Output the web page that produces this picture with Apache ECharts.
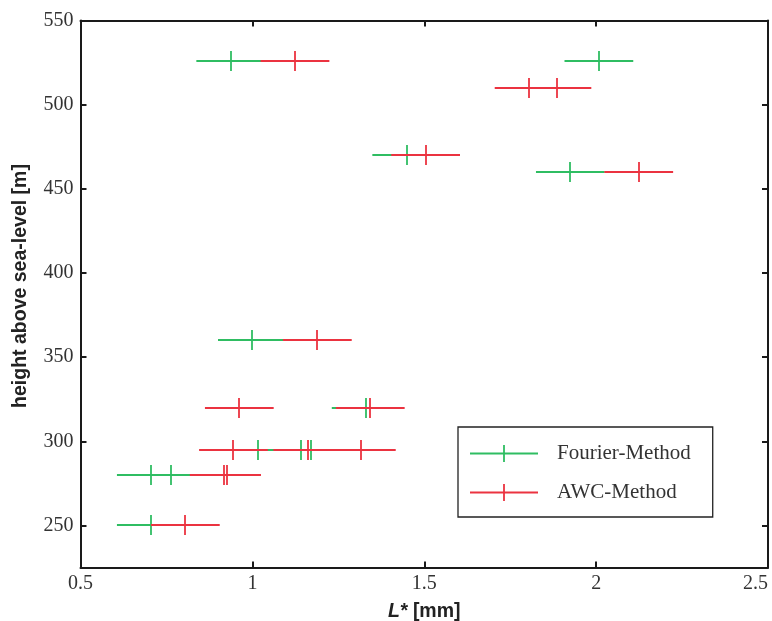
<!DOCTYPE html>
<html>
<head>
<meta charset="utf-8">
<script src="https://cdn.jsdelivr.net/npm/echarts@6/dist/echarts.min.js"></script>
<style>html,body{margin:0;padding:0;background:#fff;}#c{width:772px;height:621px;}</style>
</head>
<body>
<div id="c"></div>
<script>
// ---- data ----
const fourierX   = [0.937, 2.008, 1.449, 1.925, 1.000, 1.331, 1.015, 1.141, 1.171, 0.706, 0.762, 0.706];
const fourierY   = [526,   526,   470,   460,   360,   320,   295,   295,   295,   280,   280,   250];
const fourierErr = [0.1,   0.1,   0.1,   0.1,   0.1,   0.1,   0.1,   0.1,   0.1,   0.1,   0.1,   0.1];

const awcX   = [1.124, 1.805, 1.886, 1.504, 2.124, 1.189, 0.962, 1.343, 0.945, 1.161, 1.317, 0.918, 0.925, 0.805];
const awcY   = [526,   510,   510,   470,   460,   360,   320,   320,   295,   295,   295,   280,   280,   250];
const awcErr = [0.1,   0.1,   0.1,   0.1,   0.1,   0.1,   0.1,   0.1,   0.1,   0.1,   0.1,   0.1,   0.1,   0.1];

const seriesNames = ['Fourier-Method', 'AWC-Method'];
const xTicks = [0.5, 1, 1.5, 2, 2.5];
const yTicks = [250, 300, 350, 400, 450, 500, 550];
const xLabelVar = 'L*';
const xLabelUnit = ' [mm]';
const yLabel = 'height above sea-level [m]';

const GREEN = '#2fbd62';
const RED = '#eb3340';

function build(xs, ys, es) {
  return xs.map((x, i) => [x, ys[i], es[i]]);
}

function renderErr(color) {
  return function (params, api) {
    const x = api.value(0), y = api.value(1), e = api.value(2);
    const p = api.coord([x, y]);
    const a = api.coord([x - e, y]);
    const b = api.coord([x + e, y]);
    const yy = Math.round(p[1]);
    const xx = Math.round(p[0]);
    return {
      type: 'group',
      children: [
        { type: 'line', shape: { x1: a[0], y1: yy, x2: b[0], y2: yy },
          style: { stroke: color, lineWidth: 2 } },
        { type: 'line', shape: { x1: xx, y1: yy - 10, x2: xx, y2: yy + 10 },
          style: { stroke: color, lineWidth: 1.8 } }
      ]
    };
  };
}

const iconPath = 'path://M0,7.5L68,7.5L68,9.5L0,9.5Z M33.1,0L34.9,0L34.9,17L33.1,17Z';

const axisLineStyle = { color: '#1a1a1a', width: 2 };
const tickFont = { fontFamily: 'Liberation Serif', fontSize: 20, color: '#333' };

const chart = echarts.init(document.getElementById('c'), null, { renderer: 'canvas' });
chart.setOption({
  animation: false,
  backgroundColor: '#fff',
  grid: { left: 80.5, right: 4, top: 20.5, bottom: 53.5, containLabel: false, outerBoundsMode: 'none' },
  legend: {
    orient: 'vertical',
    left: 458, top: 427,
    padding: [16, 22, 14, 12],
    itemGap: 18,
    itemWidth: 68, itemHeight: 17,
    borderColor: '#222', borderWidth: 1.3,
    backgroundColor: '#fff',
    textStyle: { fontFamily: 'Liberation Serif', fontSize: 21, color: '#333', padding: [0, 0, 0, 14] },
    data: [
      { name: seriesNames[0], icon: iconPath, itemStyle: { color: GREEN } },
      { name: seriesNames[1], icon: iconPath, itemStyle: { color: RED } }
    ]
  },
  xAxis: [
    {
      type: 'value', min: 0.5, max: 2.5, interval: 0.5, position: 'bottom',
      name: '{i|' + xLabelVar + '}' + xLabelUnit,
      nameLocation: 'middle', nameGap: 34,
      nameTextStyle: {
        fontFamily: 'Liberation Sans', fontSize: 19.5, fontWeight: 'bold', color: '#222',
        rich: { i: { fontFamily: 'Liberation Sans', fontSize: 19.5, fontWeight: 'bold', fontStyle: 'italic', color: '#222' } }
      },
      axisLine: { show: true, lineStyle: axisLineStyle },
      axisTick: { show: true, inside: true, length: 6, lineStyle: axisLineStyle },
      axisLabel: { show: true, margin: 6, ...tickFont, customValues: xTicks,
        alignMaxLabel: 'right',
        formatter: v => String(v) },
      splitLine: { show: false }
    },
    {
      type: 'value', min: 0.5, max: 2.5, interval: 0.5, position: 'top',
      axisLine: { show: true, lineStyle: axisLineStyle },
      axisTick: { show: true, inside: true, length: 6, lineStyle: axisLineStyle },
      axisLabel: { show: false },
      splitLine: { show: false }
    }
  ],
  yAxis: [
    {
      type: 'value', min: 225, max: 550, position: 'left',
      name: yLabel, nameLocation: 'middle', nameGap: 50, nameRotate: 90,
      nameTextStyle: { fontFamily: 'Liberation Sans', fontSize: 19.5, fontWeight: 'bold', color: '#222',
        padding: [0, 0, 0, 16] },
      axisLine: { show: true, lineStyle: axisLineStyle },
      axisTick: { show: true, inside: true, length: 6, lineStyle: axisLineStyle, customValues: yTicks },
      axisLabel: { show: true, margin: 7, ...tickFont, customValues: yTicks },
      splitLine: { show: false }
    },
    {
      type: 'value', min: 225, max: 550, position: 'right',
      axisLine: { show: true, lineStyle: axisLineStyle },
      axisTick: { show: true, inside: true, length: 6, lineStyle: axisLineStyle, customValues: yTicks },
      axisLabel: { show: false },
      splitLine: { show: false }
    }
  ],
  series: [
    {
      name: seriesNames[0], type: 'custom', xAxisIndex: 0, yAxisIndex: 0,
      itemStyle: { color: GREEN },
      renderItem: renderErr(GREEN),
      encode: { x: 0, y: 1 },
      data: build(fourierX, fourierY, fourierErr)
    },
    {
      name: seriesNames[1], type: 'custom', xAxisIndex: 0, yAxisIndex: 0,
      itemStyle: { color: RED },
      renderItem: renderErr(RED),
      encode: { x: 0, y: 1 },
      data: build(awcX, awcY, awcErr)
    }
  ]
});
</script>
</body>
</html>
